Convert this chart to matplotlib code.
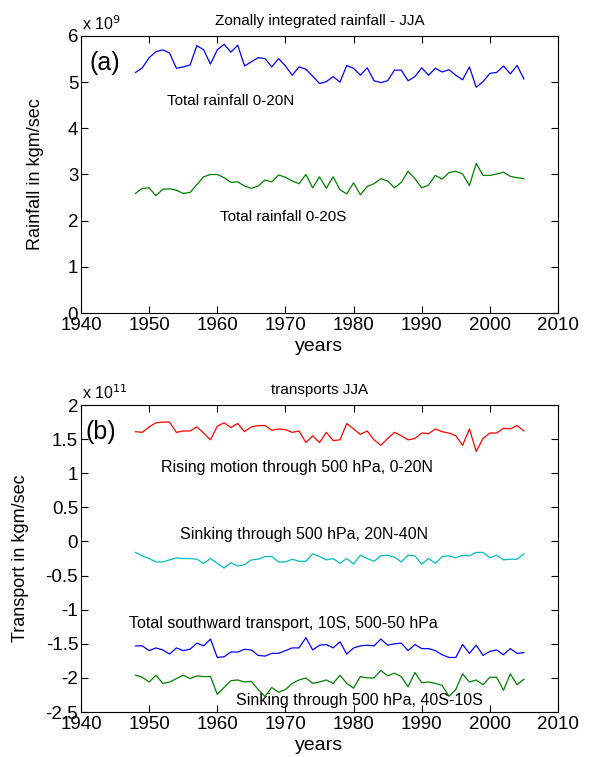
import matplotlib
matplotlib.use("Agg")
import matplotlib.pyplot as plt

plt.rcParams['font.family'] = ['Liberation Sans', 'DejaVu Sans']

years = list(range(1948, 2006))

# (a) rainfall, units of 1e9 kg m/sec
rain_N = [5.21, 5.31, 5.53, 5.66, 5.70, 5.63, 5.30, 5.33, 5.37, 5.79,
          5.70, 5.39, 5.70, 5.82, 5.65, 5.80, 5.35, 5.44, 5.53, 5.51,
          5.33, 5.51, 5.35, 5.15, 5.33, 5.28, 5.13, 4.97, 5.01, 5.12,
          5.00, 5.36, 5.30, 5.15, 5.31, 5.03, 4.99, 5.03, 5.26, 5.26,
          5.03, 5.12, 5.31, 5.15, 5.30, 5.22, 5.27, 5.15, 5.05, 5.33,
          4.89, 5.01, 5.19, 5.21, 5.35, 5.18, 5.36, 5.07]
rain_S = [2.59, 2.70, 2.71, 2.54, 2.68, 2.69, 2.66, 2.59, 2.61, 2.78,
          2.95, 3.00, 3.00, 2.93, 2.83, 2.84, 2.75, 2.70, 2.75, 2.88,
          2.84, 2.99, 2.94, 2.86, 2.80, 3.00, 2.71, 2.95, 2.70, 2.95,
          2.67, 2.58, 2.82, 2.56, 2.74, 2.80, 2.91, 2.86, 2.71, 2.83,
          3.07, 2.91, 2.71, 2.77, 2.98, 2.90, 3.04, 3.07, 3.01, 2.76,
          3.24, 2.98, 2.98, 3.01, 3.05, 2.96, 2.93, 2.91]

# (b) transports, units of 1e11 kg m/sec
rising = [1.61, 1.60, 1.68, 1.74, 1.75, 1.75, 1.60, 1.62, 1.62, 1.68,
          1.59, 1.49, 1.69, 1.74, 1.67, 1.73, 1.61, 1.68, 1.70, 1.70,
          1.63, 1.65, 1.64, 1.60, 1.62, 1.45, 1.55, 1.45, 1.60, 1.48,
          1.49, 1.73, 1.65, 1.57, 1.62, 1.49, 1.41, 1.51, 1.60, 1.55,
          1.49, 1.51, 1.59, 1.58, 1.65, 1.61, 1.59, 1.55, 1.41, 1.65,
          1.32, 1.51, 1.59, 1.59, 1.66, 1.65, 1.70, 1.62]
sink_N = [-0.16, -0.21, -0.25, -0.30, -0.30, -0.27, -0.24, -0.25, -0.25, -0.26,
          -0.32, -0.25, -0.32, -0.39, -0.31, -0.36, -0.34, -0.27, -0.26, -0.22,
          -0.22, -0.30, -0.30, -0.26, -0.29, -0.29, -0.18, -0.22, -0.27, -0.25,
          -0.32, -0.25, -0.33, -0.20, -0.25, -0.29, -0.21, -0.20, -0.23, -0.30,
          -0.20, -0.21, -0.33, -0.25, -0.32, -0.22, -0.21, -0.24, -0.20, -0.21,
          -0.16, -0.16, -0.24, -0.20, -0.27, -0.26, -0.26, -0.18]
south = [-1.53, -1.53, -1.60, -1.56, -1.59, -1.65, -1.56, -1.60, -1.58, -1.49,
         -1.53, -1.43, -1.70, -1.69, -1.62, -1.62, -1.58, -1.59, -1.67, -1.68,
         -1.64, -1.64, -1.60, -1.56, -1.56, -1.41, -1.59, -1.52, -1.51, -1.56,
         -1.47, -1.65, -1.56, -1.53, -1.52, -1.53, -1.43, -1.52, -1.50, -1.49,
         -1.60, -1.51, -1.57, -1.57, -1.60, -1.66, -1.70, -1.70, -1.51, -1.64,
         -1.52, -1.67, -1.61, -1.59, -1.66, -1.57, -1.64, -1.63]
sink_S = [-1.96, -1.99, -2.06, -1.96, -2.08, -2.06, -2.01, -1.96, -2.01, -1.97,
          -1.98, -1.98, -2.24, -2.14, -2.04, -2.03, -2.06, -2.05, -2.17, -2.27,
          -2.14, -2.21, -2.17, -2.08, -2.03, -2.00, -2.08, -2.06, -2.03, -2.08,
          -1.96, -2.08, -2.15, -1.98, -2.00, -2.00, -1.89, -1.97, -1.93, -1.98,
          -2.13, -1.92, -2.07, -2.06, -2.08, -2.11, -2.27, -2.17, -1.94, -2.06,
          -2.03, -2.10, -1.99, -1.99, -2.18, -1.94, -2.10, -2.02]

xticks = [1940, 1950, 1960, 1970, 1980, 1990, 2000, 2010]
yticks_a = [0, 1, 2, 3, 4, 5, 6]
yticks_b = [2, 1.5, 1, 0.5, 0, -0.5, -1, -1.5, -2, -2.5]
yticklabels_b = ['2', '1.5', '1', '0.5', '0', '-0.5', '-1', '-1.5', '-2', '-2.5']

fig = plt.figure(figsize=(6, 7.57), dpi=100)
ax1 = fig.add_axes([0.135, 0.5865, 0.795, 0.366])
ax2 = fig.add_axes([0.135, 0.0594, 0.795, 0.4055])


def style(ax):
    ax.set_xlim(1940, 2010)
    ax.set_xticks(xticks)
    ax.tick_params(direction='in', length=5, width=0.8, top=True, right=True,
                   labelsize=13.5)
    ax.tick_params(axis='x', pad=3)
    ax.tick_params(axis='y', pad=2)
    for s in ax.spines.values():
        s.set_linewidth(0.8)


# panel (a)
ax1.plot(years, rain_N, color='#0000ff', lw=0.9)
ax1.plot(years, rain_S, color='#008000', lw=0.9)
style(ax1)
ax1.set_ylim(0, 6)
ax1.set_yticks(yticks_a)
ax1.set_title('Zonally integrated rainfall - JJA', fontsize=11, pad=8)
ax1.set_xlabel('years', fontsize=14, labelpad=3)
ax1.set_ylabel('Rainfall in kgm/sec', fontsize=13)
ax1.yaxis.set_label_coords(-0.078, 0.5)
ax1.text(0.003, 1.01, r'x 10$^{9}$', transform=ax1.transAxes, fontsize=11.5,
         ha='left', va='bottom')
ax1.text(1941.3, 5.42, '(a)', fontsize=18, va='center')
ax1.text(1952.6, 4.59, 'Total rainfall 0-20N', fontsize=11, va='center')
ax1.text(1960.4, 2.09, 'Total rainfall 0-20S', fontsize=11, va='center')

# panel (b)
ax2.plot(years, rising, color='#ff0000', lw=0.9)
ax2.plot(years, sink_N, color='#00bfbf', lw=0.9)
ax2.plot(years, south, color='#0000ff', lw=0.9)
ax2.plot(years, sink_S, color='#008000', lw=0.9)
style(ax2)
ax2.set_ylim(-2.5, 2)
ax2.set_yticks(yticks_b)
ax2.set_yticklabels(yticklabels_b)
ax2.set_title('transports JJA', fontsize=11, pad=8)
ax2.set_xlabel('years', fontsize=14, labelpad=3)
ax2.set_ylabel('Transport in kgm/sec', fontsize=13)
ax2.yaxis.set_label_coords(-0.11, 0.5)
ax2.text(0.003, 1.01, r'x 10$^{11}$', transform=ax2.transAxes, fontsize=11.5,
         ha='left', va='bottom')
ax2.text(1940.6, 1.6, '(b)', fontsize=18, va='center')
ax2.text(1951.7, 1.09, 'Rising motion through 500 hPa, 0-20N', fontsize=11.5, va='center')
ax2.text(1954.5, 0.1, 'Sinking through 500 hPa, 20N-40N', fontsize=11.5, va='center')
ax2.text(1947.0, -1.20, 'Total southward transport, 10S, 500-50 hPa', fontsize=11.5, va='center')
ax2.text(1962.7, -2.33, 'Sinking through 500 hPa, 40S-10S', fontsize=11.5, va='center')

fig.savefig('out.png', dpi=100)
